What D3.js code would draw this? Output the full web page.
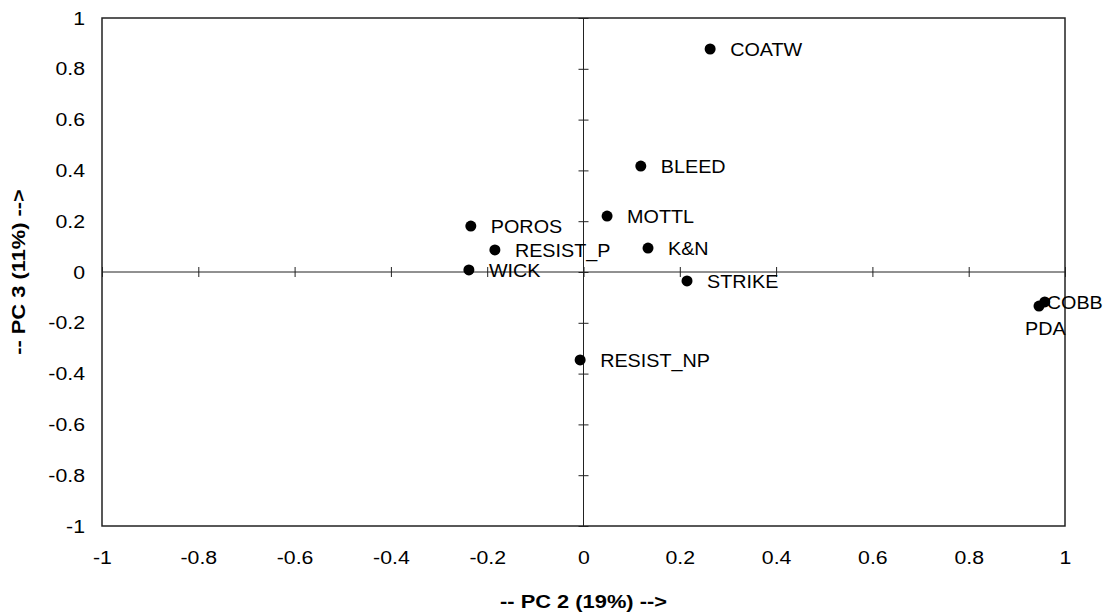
<!DOCTYPE html>
<html lang="en">
<head>
<meta charset="utf-8">
<title>PCA loadings: PC 2 vs PC 3</title>
<script src="https://d3js.org/d3.v7.min.js"></script>
<style>
  body { margin: 0; background: #fff; }
  text { font-family: Arial, "Liberation Sans", sans-serif; fill: #000; }
</style>
</head>
<body>
<script>
// variables and their loadings
var names = ["COATW", "BLEED", "MOTTL", "POROS", "RESIST_P", "K&N", "WICK", "STRIKE", "RESIST_NP", "COBB", "PDA"];
var pc2   = [0.263, 0.119, 0.049, -0.234, -0.184, 0.134, -0.238, 0.215, -0.007, 0.958, 0.946];
var pc3   = [0.878, 0.417, 0.220, 0.181, 0.087, 0.094, 0.008, -0.035, -0.346, -0.118, -0.134];

var xTicks = [-1, -0.8, -0.6, -0.4, -0.2, 0, 0.2, 0.4, 0.6, 0.8, 1];
var yTicks = [-1, -0.8, -0.6, -0.4, -0.2, 0, 0.2, 0.4, 0.6, 0.8, 1];

var xTitle = "-- PC 2 (19%) -->";
var yTitle = "-- PC 3 (11%) -->";

var width = 1113, height = 615;
var margin = {top: 18, right: 48, bottom: 89, left: 102};

// label nudges (px) where the default right-of-point place isn't used
var labelNudge = {"COBB": [2, 0], "PDA": [-14, 22]};

var svg = d3.select("body").append("svg")
    .attr("width", width)
    .attr("height", height);

var x = d3.scaleLinear().domain([-1, 1]).range([margin.left, width - margin.right]);
var y = d3.scaleLinear().domain([-1, 1]).range([height - margin.bottom, margin.top]);

var fmt = function(d) { return String(+d.toFixed(1)); };
var stretch = "scale(1.12,1)";

// frame
svg.append("rect")
    .attr("x", x(-1))
    .attr("y", y(1))
    .attr("width", x(1) - x(-1))
    .attr("height", y(-1) - y(1))
    .attr("fill", "none")
    .attr("stroke", "#222")
    .attr("stroke-width", 1.5);

// tick labels on the frame
var xAxis = svg.append("g")
    .attr("transform", "translate(0," + y(-1) + ")")
    .call(d3.axisBottom(x).tickValues(xTicks).tickFormat(fmt).tickSize(0));
xAxis.select(".domain").remove();
xAxis.selectAll("text")
    .attr("font-size", 19)
    .attr("font-family", "Arial, 'Liberation Sans', sans-serif")
    .attr("y", 0)
    .attr("dy", "0.35em")
    .attr("transform", "translate(0,31) " + stretch);

var yAxis = svg.append("g")
    .attr("transform", "translate(" + x(-1) + ",0)")
    .call(d3.axisLeft(y).tickValues(yTicks).tickFormat(fmt).tickSize(0));
yAxis.select(".domain").remove();
yAxis.selectAll("text")
    .attr("font-size", 19)
    .attr("font-family", "Arial, 'Liberation Sans', sans-serif")
    .attr("x", 0)
    .attr("transform", "translate(-17,0) " + stretch);

// centre cross with ticks on both sides
var cx = svg.append("g")
    .attr("transform", "translate(" + x(0) + ",0)")
    .call(d3.axisLeft(y).tickValues(yTicks).tickFormat("").tickSize(5));
cx.selectAll(".tick line").attr("x1", 5);
cx.select(".domain").attr("d", "M0," + y(1) + "V" + y(-1));

var cy = svg.append("g")
    .attr("transform", "translate(0," + y(0) + ")")
    .call(d3.axisBottom(x).tickValues(xTicks).tickFormat("").tickSize(5));
cy.selectAll(".tick line").attr("y1", -5);
cy.select(".domain").attr("d", "M" + x(-1) + ",0H" + x(1));

svg.selectAll(".tick line, .domain").attr("stroke", "#222");

// points
var pts = names.map(function(n, i) { return {name: n, px: pc2[i], py: pc3[i]}; });

svg.selectAll("circle.pt")
    .data(pts)
    .enter()
    .append("circle")
    .attr("class", "pt")
    .attr("cx", function(d) { return x(d.px); })
    .attr("cy", function(d) { return y(d.py); })
    .attr("r", 5.5)
    .attr("fill", "#000");

svg.selectAll("text.lbl")
    .data(pts)
    .enter()
    .append("text")
    .attr("class", "lbl")
    .attr("transform", function(d) {
        var n = labelNudge[d.name] || [20, 0];
        return "translate(" + (x(d.px) + n[0]) + "," + (y(d.py) + n[1]) + ") scale(1.04,1)";
    })
    .attr("dy", "0.38em")
    .attr("font-size", 19)
    .text(function(d) { return d.name; });

// axis titles
svg.append("text")
    .attr("transform", "translate(" + x(0) + ",608) scale(1.15,1)")
    .attr("text-anchor", "middle")
    .attr("font-size", 19)
    .attr("font-weight", "bold")
    .text(xTitle);

svg.append("text")
    .attr("transform", "translate(25," + y(0) + ") rotate(-90) scale(1.15,1)")
    .attr("text-anchor", "middle")
    .attr("font-size", 19)
    .attr("font-weight", "bold")
    .text(yTitle);
</script>
</body>
</html>
